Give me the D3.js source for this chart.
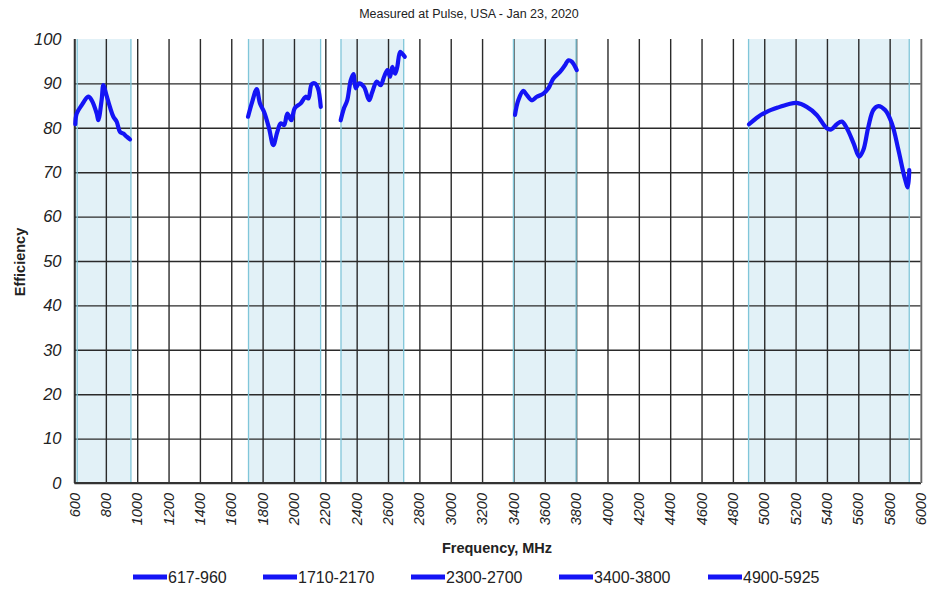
<!DOCTYPE html>
<html>
<head>
<meta charset="utf-8">
<script src="https://cdn.jsdelivr.net/npm/d3@7"></script>
<style>
  body { margin: 0; background: #fff; }
  svg text { font-family: "Liberation Sans", Arial, sans-serif; fill: #222; }
</style>
</head>
<body>
<div id="chart"></div>
<script>
// Band names (legend) and band ranges, MHz
const bandNames = ["617-960", "1710-2170", "2300-2700", "3400-3800", "4900-5925"];
const bandRanges = [[617, 960], [1710, 2170], [2300, 2700], [3400, 3800], [4900, 5925]];

// Efficiency curves: [frequency, efficiency]
const band617 = [[605, 80.8], [614, 83.2], [646, 85.1], [688, 87.0], [710, 86.2], [742, 83.2], [752, 81.7],
  [773, 86.2], [784, 89.6], [801, 87.7], [826, 84.7], [848, 82.5], [869, 81.4], [890, 79.1], [911, 78.7],
  [933, 78.0], [954, 77.4]];
const band1710 = [[1707, 82.5], [1734, 85.9], [1762, 88.7], [1783, 85.5], [1809, 83.6], [1841, 79.9],
  [1868, 76.1], [1894, 79.1], [1915, 81.0], [1937, 80.6], [1958, 83.2], [1983, 81.7], [2005, 84.4],
  [2043, 85.5], [2075, 87.0], [2092, 86.6], [2113, 89.8], [2134, 90.0], [2153, 88.9], [2171, 84.7]];
const band2300 = [[2298, 81.7], [2319, 84.4], [2340, 86.2], [2362, 90.7], [2379, 92.1], [2394, 88.9],
  [2415, 90.0], [2447, 89.2], [2479, 86.2], [2500, 88.1], [2528, 90.4], [2553, 89.6], [2575, 91.5],
  [2596, 93.0], [2613, 91.5], [2627, 93.7], [2645, 92.2], [2659, 93.7], [2677, 97.1], [2691, 96.7],
  [2707, 96.0]];
const band3400 = [[3410, 82.9], [3431, 86.2], [3463, 88.3], [3485, 87.4], [3517, 86.2], [3549, 87.0],
  [3591, 87.7], [3623, 88.9], [3655, 91.1], [3697, 92.6], [3729, 94.1], [3751, 95.2], [3772, 94.9],
  [3804, 93.0]];
const band4900 = [[4903, 80.8], [4962, 82.5], [5016, 83.6], [5090, 84.6], [5154, 85.3], [5207, 85.6],
  [5271, 84.7], [5335, 82.9], [5399, 79.9], [5427, 79.6], [5463, 80.8], [5495, 81.4], [5527, 79.9],
  [5570, 76.5], [5606, 73.5], [5632, 75.0], [5664, 80.2], [5696, 84.0], [5728, 84.9], [5771, 84.0],
  [5814, 81.0], [5856, 75.0], [5894, 69.0], [5916, 66.6], [5925, 70.5]];
const series = [band617, band1710, band2300, band3400, band4900];

const xTicks = d3.range(600, 6001, 200);
const yTicks = d3.range(0, 101, 10);

const width = 935, height = 594;
const margin = { top: 39, right: 14, bottom: 111, left: 74.5 };
const plotW = width - margin.left - margin.right;
const plotH = height - margin.top - margin.bottom;

const svg = d3.select("#chart").append("svg")
  .attr("width", width)
  .attr("height", height);

const g = svg.append("g").attr("transform", `translate(${margin.left},${margin.top})`);

const x = d3.scaleLinear().domain([600, 6000]).range([0, plotW]);
const y = d3.scaleLinear().domain([0, 100]).range([plotH, 0]);

// shaded bands
g.append("g").selectAll("rect")
  .data(bandRanges)
  .join("rect")
  .attr("x", d => x(d[0]))
  .attr("y", 0)
  .attr("width", d => x(d[1]) - x(d[0]))
  .attr("height", plotH)
  .attr("fill", "#e2f1f7");

// gridlines
g.append("g")
  .attr("transform", `translate(0,${plotH})`)
  .call(d3.axisBottom(x).tickValues(xTicks).tickFormat("").tickSize(-plotH).tickSizeOuter(0))
  .call(a => a.select(".domain").remove())
  .call(a => a.selectAll("line").attr("stroke", "#2a2a2a").attr("stroke-width", 1.4));

g.append("g")
  .call(d3.axisLeft(y).tickValues(yTicks.filter(v => v < 100)).tickFormat("").tickSize(-plotW).tickSizeOuter(0))
  .call(a => a.select(".domain").remove())
  .call(a => a.selectAll("line").attr("stroke", "#2a2a2a").attr("stroke-width", 1.4));

// band edges
g.append("g").selectAll("line")
  .data(bandRanges.flat())
  .join("line")
  .attr("x1", d => x(d)).attr("x2", d => x(d))
  .attr("y1", 0).attr("y2", plotH)
  .attr("stroke", "#80c6d9")
  .attr("stroke-width", 1.3);

// left axis line and bottom axis line
g.append("line").attr("x1", 0).attr("x2", 0).attr("y1", 0).attr("y2", plotH)
  .attr("stroke", "#333").attr("stroke-width", 1.5);
g.append("line").attr("x1", 0).attr("x2", plotW).attr("y1", plotH).attr("y2", plotH)
  .attr("stroke", "#333").attr("stroke-width", 2);
g.append("line").attr("x1", plotW).attr("x2", plotW).attr("y1", 0).attr("y2", plotH)
  .attr("stroke", "#888").attr("stroke-width", 1.3);

// tick labels
g.append("g").selectAll("text")
  .data(yTicks)
  .join("text")
  .attr("x", -13)
  .attr("y", d => y(d))
  .attr("dy", "0.35em")
  .attr("text-anchor", "end")
  .style("font-size", "16.5px")
  .style("font-style", "italic")
  .text(d => d);

g.append("g").selectAll("text")
  .data(xTicks)
  .join("text")
  .attr("transform", d => `translate(${x(d)},${plotH + 10}) rotate(-90)`)
  .attr("dy", "0.35em")
  .attr("text-anchor", "end")
  .style("font-size", "14.5px")
  .style("font-style", "italic")
  .text(d => d);

// curves
const line = d3.line()
  .x(d => x(d[0]))
  .y(d => y(d[1]))
  .curve(d3.curveCatmullRom.alpha(0.5));

g.append("g").selectAll("path")
  .data(series)
  .join("path")
  .attr("d", line)
  .attr("fill", "none")
  .attr("stroke", "#1414f5")
  .attr("stroke-width", 4.2)
  .attr("stroke-linejoin", "round")
  .attr("stroke-linecap", "round");

// titles
svg.append("text")
  .attr("x", 469).attr("y", 18)
  .attr("text-anchor", "middle")
  .style("font-family", "'Liberation Sans Narrow', 'Arial Narrow', sans-serif")
  .style("font-size", "12.5px")
  .text("Measured at Pulse, USA - Jan 23, 2020");

svg.append("text")
  .attr("x", 497).attr("y", 553)
  .attr("text-anchor", "middle")
  .style("font-size", "14.5px")
  .style("font-weight", "bold")
  .text("Frequency, MHz");

svg.append("text")
  .attr("transform", "translate(25,262) rotate(-90)")
  .attr("text-anchor", "middle")
  .style("font-size", "14.5px")
  .style("font-weight", "bold")
  .text("Efficiency");

// legend
const legendX = [133, 263, 411, 559, 708];
const legend = svg.append("g").selectAll("g")
  .data(bandNames)
  .join("g")
  .attr("transform", (d, i) => `translate(${legendX[i]},577)`);

legend.append("line")
  .attr("x1", 0).attr("x2", 34)
  .attr("stroke", "#1414f5")
  .attr("stroke-width", 5);

legend.append("text")
  .attr("x", 35)
  .attr("dy", "0.36em")
  .style("font-size", "16px")
  .text(d => d);
</script>
</body>
</html>
